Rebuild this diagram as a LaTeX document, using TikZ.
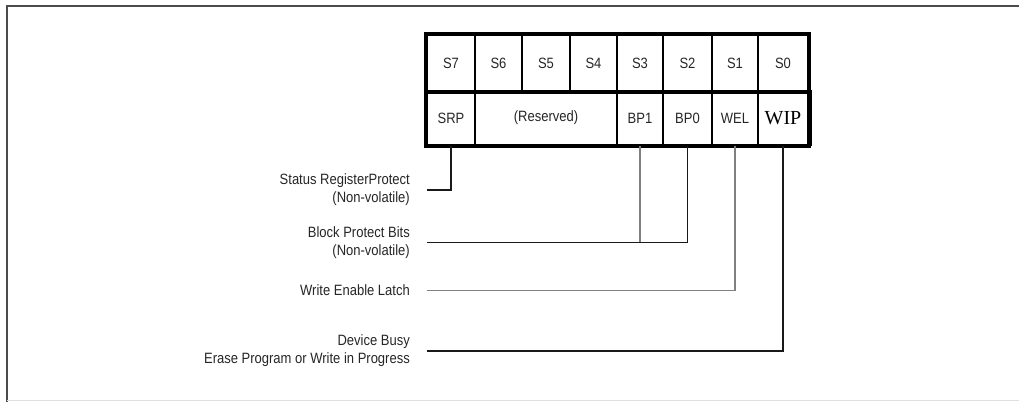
\documentclass[tikz,border=0pt]{standalone}
\usepackage{fontspec}
\setmainfont{Liberation Sans}
\newfontfamily\labfont[FakeStretch=0.87]{Liberation Sans}
\newfontfamily\wipfont{Liberation Serif}
\begin{document}
\begin{tikzpicture}[x=1bp,y=-1bp,
  cell/.style={draw=black, line width=2.2bp, inner sep=0pt, font=\labfont\fontsize{15}{17}\selectfont, text=black!85},
  lab/.style={anchor=east, align=right, inner sep=0pt, font=\labfont\fontsize{15}{18}\selectfont, text=black!85},
  blk/.style={draw=black!90, line width=1.7bp},
  gry/.style={draw=black!50, line width=1.9bp}]
\useasboundingbox (0,0) rectangle (1019,401);
% frame
\draw[line width=2.2bp, black!70] (7,402) -- (7,6) -- (1025,6);
\draw[line width=0.8bp, black!12] (7,400) -- (1025,400);
% row 1
\node[cell, minimum width=48bp, minimum height=56bp] (s7) at (451,63) {S7};
\node[cell, minimum width=47bp, minimum height=56bp] (s6) at (498.5,63) {S6};
\node[cell, minimum width=48bp, minimum height=56bp] (s5) at (546,63) {S5};
\node[cell, minimum width=47bp, minimum height=56bp] (s4) at (593.5,63) {S4};
\node[cell, minimum width=46bp, minimum height=56bp] (s3) at (640,63) {S3};
\node[cell, minimum width=49bp, minimum height=56bp] (s2) at (687.5,63) {S2};
\node[cell, minimum width=46bp, minimum height=56bp] (s1) at (735,63) {S1};
\node[cell, minimum width=50bp, minimum height=56bp] (s0) at (783,63) {S0};
% row 2
\node[cell, minimum width=48bp, minimum height=54bp] (srp) at (451,118) {SRP};
\node[cell, minimum width=142bp, minimum height=54bp] (res) at (546,118) {(Reserved)};
\node[cell, minimum width=46bp, minimum height=54bp] (bp1) at (640,118) {BP1};
\node[cell, minimum width=49bp, minimum height=54bp] (bp0) at (687.5,118) {BP0};
\node[cell, minimum width=46bp, minimum height=54bp] (wel) at (735,118) {WEL};
\node[cell, minimum width=50bp, minimum height=54bp, font=\wipfont\fontsize{20}{22}\selectfont, text=black] (wip) at (783,118) {WIP};
% outer border
\draw[line width=3bp] (s7.north west) rectangle (wip.south east);
\draw[line width=3bp] (s7.south west) -- (s0.south east);
\draw[line width=4.5bp] ([xshift=1bp]wip.north east) -- ([xshift=1bp]wip.south east);
% labels
\node[lab] (lsrp) at (410,190) {Status RegisterProtect\\(Non-volatile)};
\node[lab] (lbp) at (410,242.5) {Block Protect Bits\\(Non-volatile)};
\node[lab] (lwel) at (410,290.5) {Write Enable Latch};
\node[lab] (lwip) at (410,350.5) {Device Busy\\Erase Program or Write in Progress};
% connectors
\draw[blk] (srp.south) |- ([xshift=17bp]lsrp.east);
\draw[gry] (bp1.south) -- (bp1.south |- lbp.east);
\draw[blk] (bp0.south) |- ([xshift=17bp]lbp.east);
\draw[gry] (wel.south) |- ([xshift=17bp]lwel.east);
\draw[blk, line width=2bp] (wip.south) |- ([xshift=17bp]lwip.east);
\end{tikzpicture}
\end{document}
